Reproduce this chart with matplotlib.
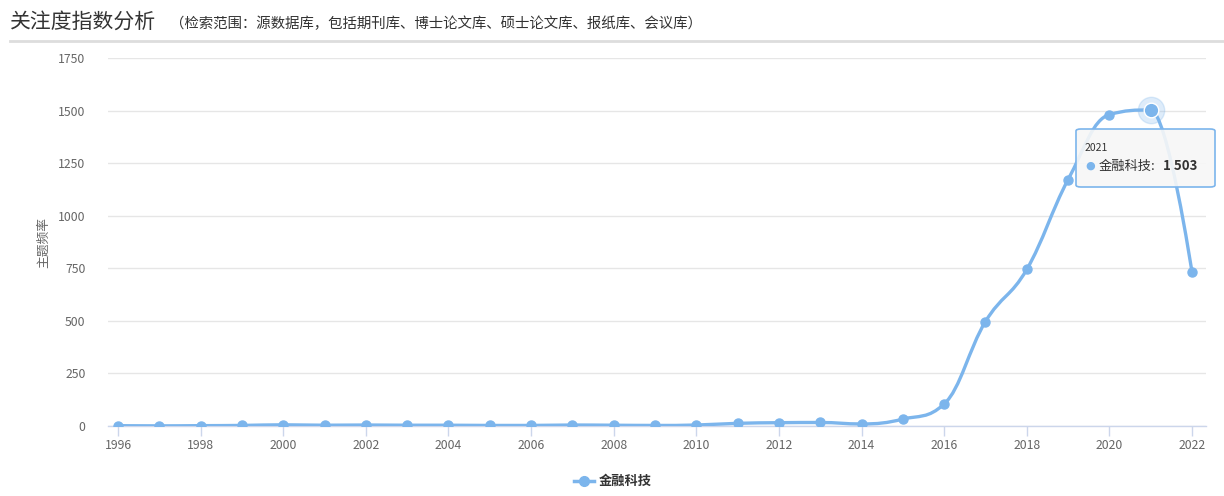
import matplotlib
matplotlib.use("Agg")
import matplotlib.pyplot as plt
from matplotlib.path import Path
from matplotlib.patches import PathPatch, FancyBboxPatch
from matplotlib.lines import Line2D
import numpy as np

plt.rcParams['font.family'] = ['Noto Sans CJK SC', 'DejaVu Sans']

years = list(range(1996, 2023))
values = [2, 1, 2, 3, 6, 4, 5, 4, 4, 3, 3, 5, 4, 3, 5, 13, 16, 17, 10, 33, 105, 497, 745, 1172, 1481, 1503, 731]
series_name = "金融科技"
y_ticks = [0, 250, 500, 750, 1000, 1250, 1500, 1750]
x_ticks = list(range(1996, 2023, 2))
title = "关注度指数分析"
subtitle = "（检索范围：源数据库，包括期刊库、博士论文库、硕士论文库、报纸库、会议库）"
y_label = "主题频率"
hover_year = 2021

color = '#7cb5ec'

fig = plt.figure(figsize=(12.24, 4.96), dpi=100)
ax = fig.add_axes([0.088, 0.141, 0.897, 0.742])
ax.set_xlim(1995.75, 2022.33)
ax.set_ylim(0, 1750)

# Highcharts-style spline
def spline_path(xs, ys, smoothing=1.5):
    n = len(xs)
    denom = smoothing + 1
    lc = [None] * n
    rc = [None] * n
    for i in range(1, n - 1):
        px, py = xs[i], ys[i]
        lx, ly = xs[i - 1], ys[i - 1]
        nx, ny = xs[i + 1], ys[i + 1]
        lcx = (smoothing * px + lx) / denom
        lcy = (smoothing * py + ly) / denom
        rcx = (smoothing * px + nx) / denom
        rcy = (smoothing * py + ny) / denom
        corr = 0
        if rcx != lcx:
            corr = (rcy - lcy) * (rcx - px) / (rcx - lcx) + py - rcy
        lcy += corr
        rcy += corr
        if lcy > ly and lcy > py:
            lcy = max(ly, py); rcy = 2 * py - lcy
        elif lcy < ly and lcy < py:
            lcy = min(ly, py); rcy = 2 * py - lcy
        if rcy > ny and rcy > py:
            rcy = max(ny, py); lcy = 2 * py - rcy
        elif rcy < ny and rcy < py:
            rcy = min(ny, py); lcy = 2 * py - rcy
        lc[i] = (lcx, lcy)
        rc[i] = (rcx, rcy)
    verts = [(xs[0], ys[0])]
    codes = [Path.MOVETO]
    for i in range(1, n):
        c1 = rc[i - 1] if rc[i - 1] is not None else (xs[i - 1], ys[i - 1])
        c2 = lc[i] if lc[i] is not None else (xs[i], ys[i])
        verts += [c1, c2, (xs[i], ys[i])]
        codes += [Path.CURVE4] * 3
    return Path(verts, codes)

path = spline_path(years, values)
ax.add_patch(PathPatch(path, facecolor='none', edgecolor=color, lw=2.4, zorder=3,
                       capstyle='round', joinstyle='round'))
ax.plot(years, values, linestyle='none', marker='o', markersize=6.5,
        color=color, zorder=4)

# hover point
hi = years.index(hover_year)
ax.plot([hover_year], [values[hi]], marker='o', markersize=19, color=color,
        alpha=0.25, linestyle='none', zorder=4)
ax.plot([hover_year], [values[hi]], marker='o', markersize=10.5, color=color,
        markeredgecolor='white', markeredgewidth=1, linestyle='none', zorder=5)

# grid and axes
ax.set_yticks(y_ticks)
ax.set_xticks(x_ticks)
ax.grid(axis='y', color='#e6e6e6', lw=1)
ax.set_axisbelow(True)
for s in ['top', 'right', 'left']:
    ax.spines[s].set_visible(False)
ax.spines['bottom'].set_color('#ccd6eb')
ax.spines['bottom'].set_linewidth(1)
ax.tick_params(axis='y', length=0, pad=16, labelsize=8.8, labelcolor='#666666')
ax.tick_params(axis='x', length=7, width=1, color='#ccd6eb', pad=2,
               labelsize=8.8, labelcolor='#666666')
ax.set_ylabel(y_label, fontsize=9.2, color='#666666', labelpad=6)

# title
fig.text(10 / 1224, 1 - 22 / 496, title, fontsize=15, color='#333333',
         va='center', ha='left')
fig.text(170 / 1224, 1 - 24 / 496, subtitle, fontsize=10.4, color='#333333',
         va='center', ha='left')
fig.add_artist(Line2D([10 / 1224, 1.0], [1 - 41 / 496, 1 - 41 / 496],
                      color='#dddddd', lw=2, transform=fig.transFigure))

# tooltip
tx0, ty0, tw, th = 1076 / 1224, 1 - 187 / 496, 139 / 1224, 58 / 496
fig.patches.append(FancyBboxPatch((tx0, ty0), tw, th,
                                  boxstyle='round,pad=0,rounding_size=0.004',
                                  transform=fig.transFigure, facecolor=(0.97, 0.97, 0.97, 0.9),
                                  edgecolor=color, lw=1.2, zorder=10))
fig.text(1085 / 1224, 1 - 148 / 496, str(hover_year), fontsize=7.5, color='#333333',
         va='center', ha='left', zorder=11)
fig.text(1090 / 1224, 1 - 166 / 496, '●', fontsize=8, color=color,
         va='center', ha='center', zorder=11, family='DejaVu Sans')
fig.text(1099 / 1224, 1 - 166 / 496, series_name + ':', fontsize=9.5, color='#333333',
         va='center', ha='left', zorder=11)
v = values[hi]
vs = f"{v:,}".replace(',', ' ')
fig.text(1163 / 1224, 1 - 166 / 496, vs, fontsize=9.5, color='#333333', fontweight='bold',
         va='center', ha='left', zorder=11)

# legend
ly = 1 - 481 / 496
fig.add_artist(Line2D([574 / 1224, 594 / 1224], [ly, ly], color=color, lw=2.5,
                      transform=fig.transFigure))
fig.add_artist(Line2D([584 / 1224], [ly], color=color, marker='o', markersize=7,
                      transform=fig.transFigure))
fig.text(599 / 1224, ly, series_name, fontsize=9.5, fontweight='bold', color='#333333',
         va='center', ha='left')

fig.savefig('out.png', dpi=100, facecolor='white')
